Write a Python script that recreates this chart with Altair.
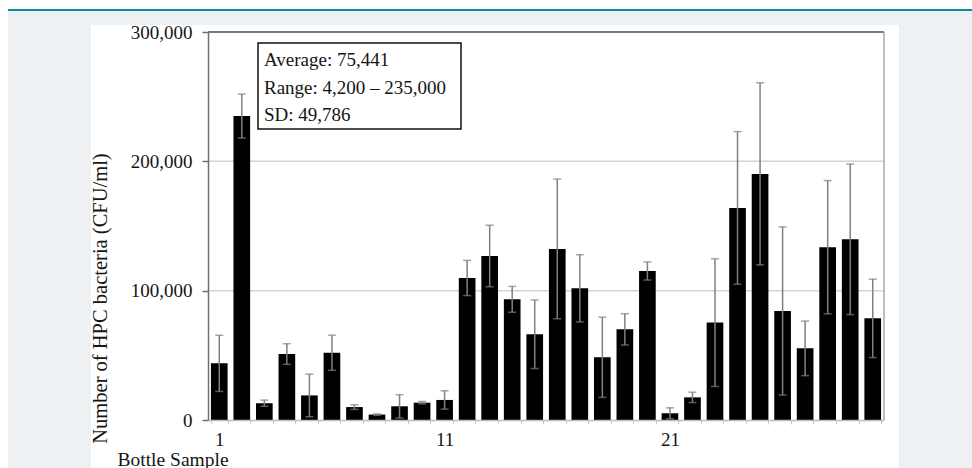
import altair as alt
import pandas as pd

# ---- data ----
bottles = list(range(1, 31))
hpc = [43800, 235000, 13000, 51000, 19000, 52000, 10000, 4200, 10600, 13400,
       15500, 109800, 126800, 93300, 66300, 132300, 101800, 48500, 70100, 115200,
       5200, 17500, 75300, 164000, 190300, 84300, 55400, 133600, 139700, 78600]
sd = [21700, 17000, 2400, 8000, 16500, 13600, 1800, 500, 9000, 900,
      7100, 13600, 23800, 10000, 26500, 54000, 26000, 31000, 12100, 7000,
      4200, 4000, 49400, 59000, 70400, 65000, 21100, 51500, 58200, 30300]
shown_labels = [1, 11, 21]
y_ticks = [0, 100000, 200000, 300000]
grid_values = [100000, 200000]
top_value = [300000]
note_lines = ["Average: 75,441", "Range: 4,200 \u2013 235,000", "SD: 49,786"]
x_title = "Bottle Sample"
y_title = "Number of HPC bacteria (CFU/ml)"

FONT = "Liberation Serif"
TXT = "#151515"
W, H = 676, 388

df = pd.DataFrame({"bottle": bottles, "hpc": hpc, "sd": sd})
df["lo"] = (df["hpc"] - df["sd"]).clip(lower=0)
df["hi"] = df["hpc"] + df["sd"]

label_expr = "indexof([" + ",".join(str(v) for v in shown_labels) + "], datum.value) >= 0 ? datum.label : ''"

x_scale = alt.Scale(paddingInner=0.26, paddingOuter=0.13)
x_axis = alt.Axis(title=x_title, labelAngle=0, labelExpr=label_expr, labelOverlap=False,
                  labelFont=FONT, labelFontSize=19, labelColor=TXT, labelPadding=6,
                  tickBand="extent", tickSize=4, tickColor="#c8c8c8", tickWidth=1,
                  domainColor="#bdbdbd", domainWidth=1.5,
                  titleFont=FONT, titleFontSize=19.5, titleFontWeight="normal", titleColor=TXT,
                  titleX=-91, titleY=39, titleAlign="left", titleBaseline="middle",
                  zindex=1)
y_scale = alt.Scale(domain=[0, 300000], nice=False)
y_axis = alt.Axis(values=y_ticks, labelExpr="format(datum.value, ',')", grid=False,
                  domainColor="#707070", domainWidth=1.5,
                  tickColor="#707070", tickSize=6, tickWidth=1.5,
                  labelFont=FONT, labelFontSize=19, labelColor=TXT, labelPadding=10,
                  title=y_title, titleFont=FONT, titleFontSize=20.5, titleFontWeight="normal",
                  titleColor=TXT, titleAngle=270, titleX=-108, titleY=266,
                  titleAlign="center", titleBaseline="middle", zindex=1)

one = pd.DataFrame({"a": [0]})

bg = alt.Chart(one).mark_rect(color="#edf1f4").encode(
    x=alt.value(8 - 208), x2=alt.value(972 - 208), y=alt.value(11 - 32), y2=alt.value(468 - 32))
teal = alt.Chart(one).mark_rule(color="#11889a", strokeWidth=2).encode(
    x=alt.value(8 - 208), x2=alt.value(972 - 208), y=alt.value(10 - 32))
panel = alt.Chart(one).mark_rect(color="#ffffff").encode(
    x=alt.value(91 - 208), x2=alt.value(899 - 208), y=alt.value(25 - 32), y2=alt.value(468 - 32))

grid = alt.Chart(pd.DataFrame({"hpc": grid_values})).mark_rule(color="#d4d4d4", strokeWidth=1.5).encode(
    y=alt.Y("hpc:Q", scale=y_scale, axis=y_axis), x=alt.value(0), x2=alt.value(W))
top = alt.Chart(pd.DataFrame({"hpc": top_value})).mark_rule(color="#7a7a7a", strokeWidth=2).encode(
    y=alt.Y("hpc:Q", scale=y_scale, axis=y_axis), x=alt.value(0), x2=alt.value(W))
right = alt.Chart(one).mark_rule(color="#a8a8a8", strokeWidth=1.5).encode(
    x=alt.value(W), y=alt.value(0), y2=alt.value(H))

bars = alt.Chart(df).mark_bar(color="#000000").encode(
    x=alt.X("bottle:O", scale=x_scale, axis=x_axis),
    y=alt.Y("hpc:Q", scale=y_scale, axis=y_axis))
err = alt.Chart(df).mark_rule(color="#808080", strokeWidth=1.5).encode(
    x=alt.X("bottle:O", scale=x_scale, axis=x_axis),
    y=alt.Y("lo:Q", scale=y_scale, axis=y_axis), y2="hi:Q")
cap_hi = alt.Chart(df).mark_tick(color="#808080", thickness=1.5, size=8).encode(
    x=alt.X("bottle:O", scale=x_scale, axis=x_axis),
    y=alt.Y("hi:Q", scale=y_scale, axis=y_axis))
cap_lo = alt.Chart(df).mark_tick(color="#808080", thickness=1.5, size=8).encode(
    x=alt.X("bottle:O", scale=x_scale, axis=x_axis),
    y=alt.Y("lo:Q", scale=y_scale, axis=y_axis))

box = alt.Chart(one).mark_rect(fill="#ffffff", stroke="#111111", strokeWidth=1.5).encode(
    x=alt.value(258 - 208), x2=alt.value(461 - 208), y=alt.value(43 - 32), y2=alt.value(129 - 32))
note_baselines = [66 - 32, 93.5 - 32, 121 - 32]
notes = [
    alt.Chart(one).mark_text(font=FONT, fontSize=19, color=TXT, align="left",
                             baseline="alphabetic", text=line).encode(
        x=alt.value(264 - 208), y=alt.value(yb))
    for line, yb in zip(note_lines, note_baselines)
]

chart = alt.layer(bg, teal, panel, grid, top, bars, err, cap_hi, cap_lo, right, box, *notes).properties(
    width=W, height=H,
    autosize=alt.AutoSizeParams(type="none"),
    padding={"left": 208, "top": 32, "right": 88, "bottom": 48},
    background="#ffffff",
).configure_view(stroke=None)

chart.save("out.html", embed_options={"renderer": "svg", "actions": False})
